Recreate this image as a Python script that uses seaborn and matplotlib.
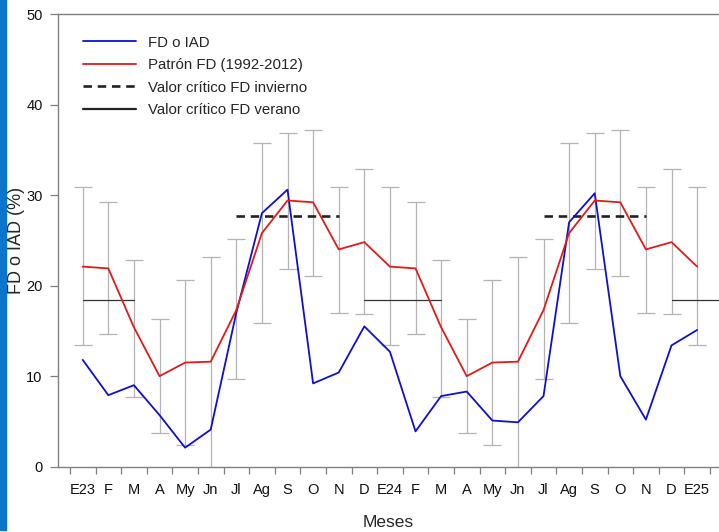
import numpy as np
import pandas as pd
import seaborn as sns
import matplotlib.pyplot as plt
from matplotlib.lines import Line2D
from matplotlib.patches import Rectangle

# data
meses = ['E23', 'F', 'M', 'A', 'My', 'Jn', 'Jl', 'Ag', 'S', 'O', 'N', 'D',
         'E24', 'F', 'M', 'A', 'My', 'Jn', 'Jl', 'Ag', 'S', 'O', 'N', 'D', 'E25']
fd_iad = [11.8, 7.9, 9.0, 5.7, 2.1, 4.1, 17.0, 28.0, 30.6, 9.2, 10.4, 15.5,
          12.7, 3.9, 7.8, 8.3, 5.1, 4.9, 7.8, 27.0, 30.2, 10.0, 5.2, 13.4, 15.1]
patron = [22.1, 21.9, 15.4, 10.0, 11.5, 11.6, 17.3, 25.8, 29.4, 29.2, 24.0, 24.8,
          22.1, 21.9, 15.4, 10.0, 11.5, 11.6, 17.3, 25.8, 29.4, 29.2, 24.0, 24.8, 22.1]
patron_sup = [30.9, 29.2, 22.8, 16.3, 20.6, 23.2, 25.1, 35.7, 36.9, 37.2, 30.9, 32.9,
              30.9, 29.2, 22.8, 16.3, 20.6, 23.2, 25.1, 35.7, 36.9, 37.2, 30.9, 32.9, 30.9]
patron_inf = [13.4, 14.7, 7.7, 3.7, 2.4, -1.0, 9.7, 15.9, 21.8, 21.1, 17.0, 16.9,
              13.4, 14.7, 7.7, 3.7, 2.4, -1.0, 9.7, 15.9, 21.8, 21.1, 17.0, 16.9, 13.4]
critico_invierno = 27.7
critico_verano = 18.4
tramos_invierno = [(6, 10), (18, 22)]
tramos_verano = [(0, 2), (11, 14), (23, 25)]

sns.set_theme(style='white')
plt.rcParams['font.family'] = ['Liberation Sans', 'DejaVu Sans']

x = np.arange(len(meses))
df = pd.DataFrame({
    'x': np.concatenate([x, x]),
    'valor': fd_iad + patron,
    'serie': ['FD o IAD'] * len(x) + ['Patrón FD (1992-2012)'] * len(x),
})

fig = plt.figure(figsize=(7.19, 5.32), dpi=100)
ax = fig.add_axes([58 / 719, 65.3 / 532, 1 - 58 / 719, 452.7 / 532])

# error bars of the pattern
p = np.array(patron)
ax.errorbar(x, p, yerr=[p - np.array(patron_inf), np.array(patron_sup) - p],
            fmt='none', ecolor='#b3b3b3', elinewidth=0.9, capsize=6.5, capthick=0.9, zorder=1)

for a, b in tramos_verano:
    ax.plot([a, b], [critico_verano] * 2, color='#333333', lw=0.9, zorder=2)
for a, b in tramos_invierno:
    ax.plot([a, b], [critico_invierno] * 2, color='#222222', lw=1.9, ls=(0, (3.2, 2.2)), zorder=2)

sns.lineplot(data=df, x='x', y='valor', hue='serie', palette=['#1010cc', '#dd1c1c'],
             linewidth=1.3, ax=ax, legend=False, zorder=3)

ax.set_xlim(-0.965, 24.855)
ax.set_ylim(0, 50)
ax.set_yticks([0, 10, 20, 30, 40, 50])
ax.set_xticks(x)
ax.set_xticklabels(meses)
ax.set_xticks(np.arange(-0.5, 25, 1), minor=True)
ax.tick_params(axis='x', which='major', length=0, pad=12, labelsize=10.5, labelcolor='#111111')
ax.tick_params(axis='x', which='minor', length=5, width=0.9, color='#808080', bottom=True)
ax.tick_params(axis='y', length=6, width=0.9, color='#808080', pad=5, labelsize=10.5,
               labelcolor='#111111', left=True)

for s in ['left', 'top', 'bottom']:
    ax.spines[s].set_color('#808080')
    ax.spines[s].set_linewidth(1.0)
ax.spines['right'].set_visible(False)

ax.set_xlabel('Meses', fontsize=12.5)
ax.xaxis.set_label_coords(0.5, -0.106)
ax.set_ylabel('FD o IAD (%)', fontsize=13)
ax.yaxis.set_label_coords(-0.05, 0.5)

handles = [
    Line2D([], [], color='#1010cc', lw=1.3),
    Line2D([], [], color='#dd1c1c', lw=1.3),
    Line2D([], [], color='#222222', lw=1.9, ls=(0, (3.2, 2.2))),
    Line2D([], [], color='#222222', lw=1.6),
]
labels = ['FD o IAD', 'Patrón FD (1992-2012)', 'Valor crítico FD invierno', 'Valor crítico FD verano']
ax.legend(handles, labels, loc='upper left', bbox_to_anchor=(0.038, 0.952), frameon=False,
          fontsize=10.8, handlelength=3.5, handletextpad=0.8, labelspacing=0.56,
          borderpad=0, borderaxespad=0)

# blue strip along the left edge
fig.patches.append(Rectangle((0, 2 / 532), 6 / 719, 1, transform=fig.transFigure,
                             color='#0b74cc', zorder=-1))

fig.savefig('out.png', dpi=100)
